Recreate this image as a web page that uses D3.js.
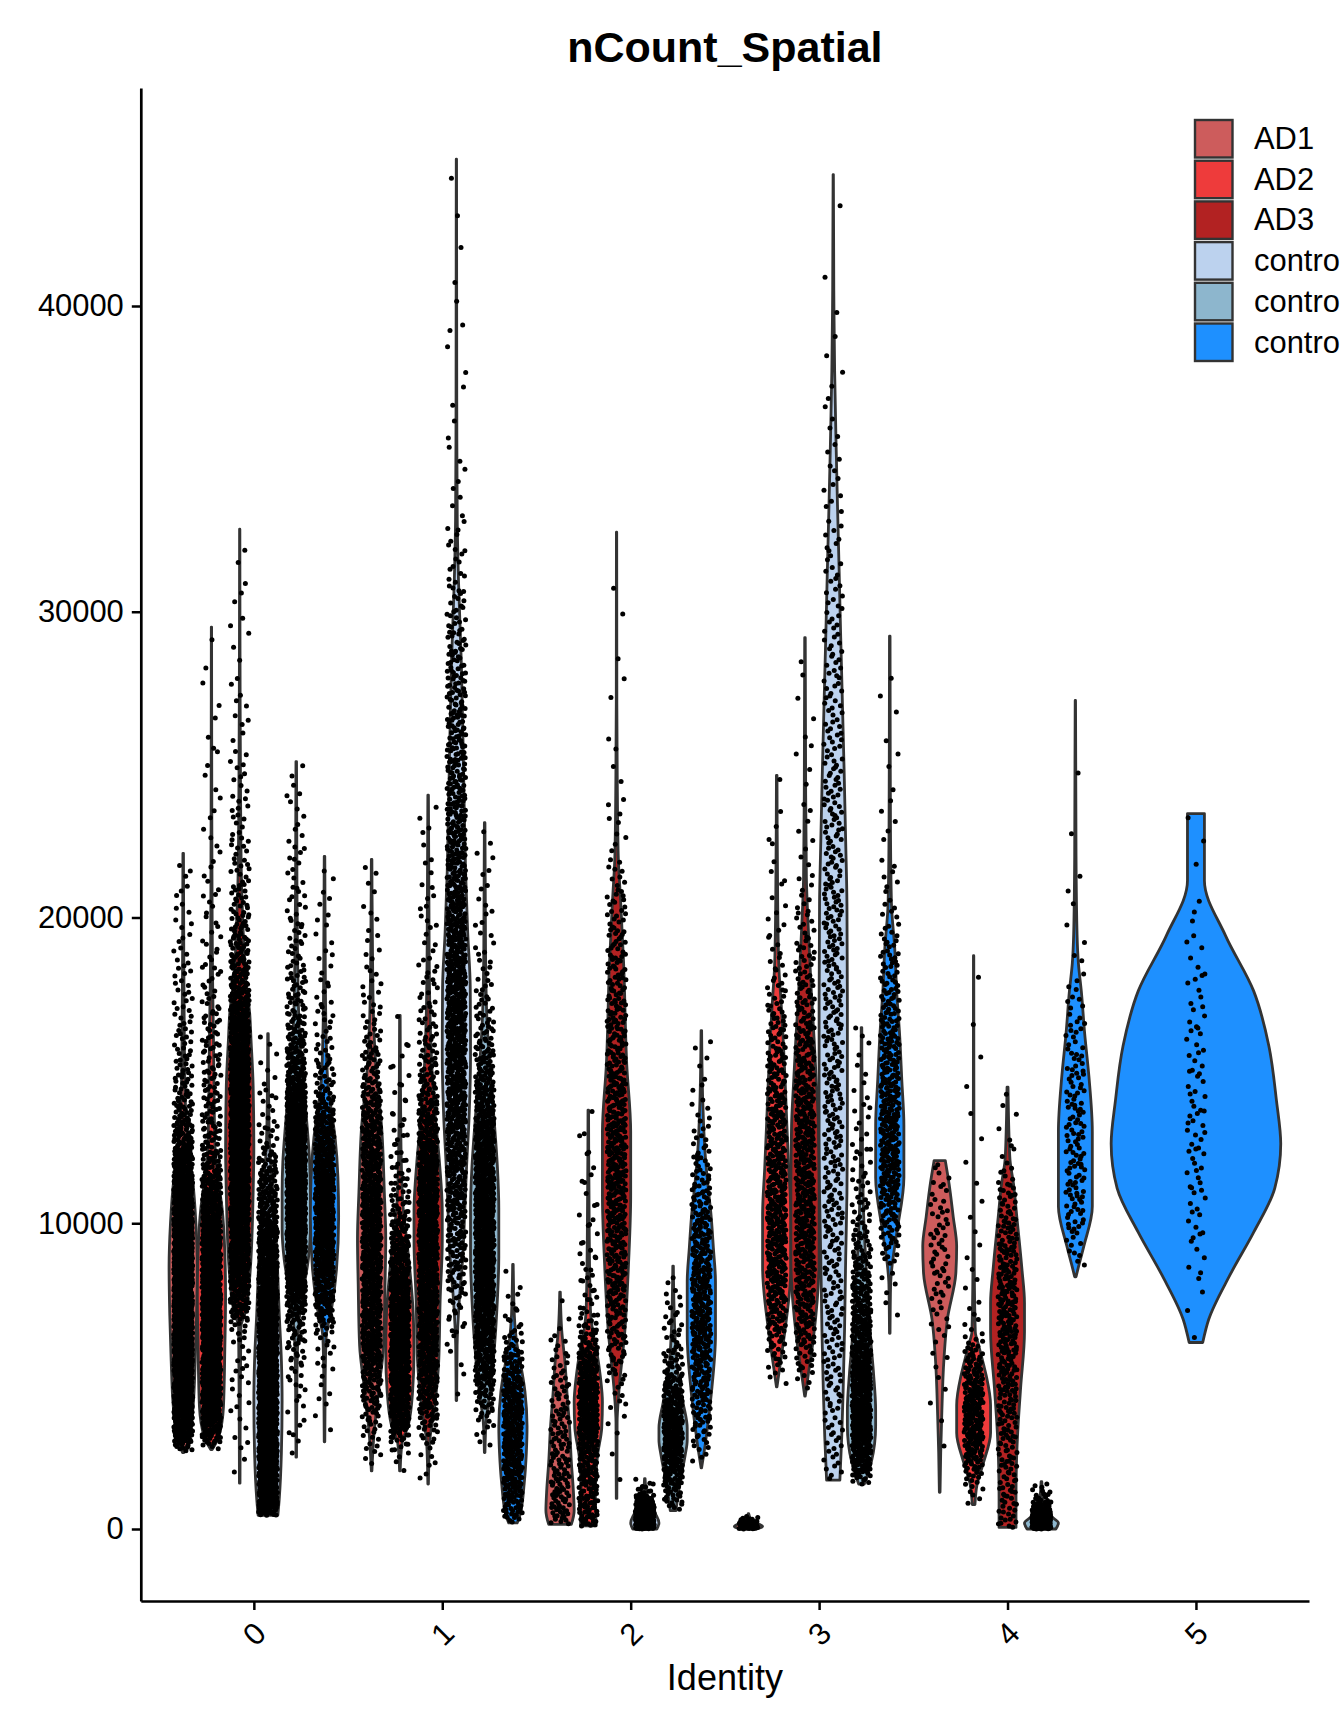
<!DOCTYPE html>
<html>
<head>
<meta charset="utf-8">
<script src="https://cdn.jsdelivr.net/npm/d3@7"></script>
<style>
  body { margin: 0; background: #fff; }
  svg { display: block; font-family: "Liberation Sans", Arial, Helvetica, sans-serif; }
</style>
</head>
<body>
<div id="chart"></div>
<script>
// ---- data ----
const identities = ["0", "1", "2", "3", "4", "5"];
const samples = ["AD1", "AD2", "AD3", "control1", "control2", "control3"];
const sampleColors = ["#CD5C5C", "#EE3B3B", "#B22222", "#BCD2EE", "#8DB6CD", "#1E90FF"];
// legend labels as they appear (cut by the right edge in the original)
const legendLabels = ["AD1", "AD2", "AD3", "contro", "contro", "contro"];
const yTicks = [0, 10000, 20000, 30000, 40000];

// each violin: sample, number of spots, profile = [nCount, relative density] from min to max
const cluster0 = [
  {sample: "AD1", n: 1600, profile: [[2500,0.05],[3000,0.45],[4000,0.7],[5500,0.85],[7000,0.95],[8600,1.0],[10000,0.9],[11500,0.65],[12500,0.35],[14000,0.15],[16000,0.08],[19000,0.04],[22100,0.02]]},
  {sample: "AD2", n: 1100, profile: [[2600,0.05],[3000,0.5],[4000,0.85],[6000,0.95],[7600,1.0],[9000,0.95],[10500,0.75],[11500,0.45],[12500,0.25],[14500,0.18],[16200,0.14],[18000,0.08],[21000,0.04],[25000,0.02],[29500,0.01]]},
  {sample: "AD3", n: 1300, profile: [[1500,0.02],[4000,0.04],[6600,0.08],[7100,0.4],[8500,0.75],[11000,0.95],[12500,1.0],[14500,0.95],[16000,0.8],[16900,0.7],[18000,0.4],[19500,0.25],[21300,0.12],[24000,0.06],[27000,0.03],[32700,0.01]]},
  {sample: "control1", n: 1300, profile: [[450,0.7],[1000,0.8],[2500,0.95],[4200,1.0],[5500,0.95],[7000,0.8],[9300,0.6],[11000,0.35],[12500,0.12],[14000,0.05],[16200,0.02]]},
  {sample: "control2", n: 1200, profile: [[2350,0.02],[5000,0.05],[6800,0.2],[7800,0.5],[8800,0.85],[9800,1.0],[11000,1.0],[12000,0.95],[13000,0.8],[14300,0.55],[15300,0.35],[16500,0.2],[18500,0.1],[21000,0.05],[25100,0.02]]},
  {sample: "control3", n: 650, profile: [[2850,0.02],[5000,0.05],[6300,0.12],[7200,0.5],[8500,0.85],[10200,1.0],[11500,0.95],[12800,0.75],[13800,0.45],[14500,0.25],[16000,0.12],[18000,0.06],[22000,0.02]]}
];
const cluster1 = [
  {sample: "AD1", n: 800, profile: [[1900,0.02],[3000,0.15],[4550,0.5],[6000,0.85],[8000,0.95],[9500,1.0],[11000,0.9],[13200,0.7],[14800,0.35],[16500,0.15],[18500,0.07],[21900,0.02]]},
  {sample: "AD2", n: 700, profile: [[1900,0.02],[2800,0.15],[3400,0.6],[4500,0.9],[5800,1.0],[7000,0.95],[8500,0.7],[9800,0.4],[10400,0.25],[12000,0.1],[14000,0.05],[16800,0.02]]},
  {sample: "AD3", n: 900, profile: [[1470,0.02],[2800,0.1],[3950,0.45],[5500,0.75],[7500,0.85],[9400,1.0],[10400,1.0],[12000,0.8],[13500,0.5],[14800,0.3],[16500,0.15],[19000,0.07],[24000,0.02]]},
  {sample: "control1", n: 1100, profile: [[4200,0.02],[6000,0.05],[7450,0.2],[8900,0.45],[10500,0.6],[11850,0.72],[13500,0.9],[15500,1.0],[17700,0.98],[19500,0.8],[21500,0.65],[25000,0.5],[28300,0.35],[31000,0.15],[33000,0.06],[37000,0.025],[44800,0.01]]},
  {sample: "control2", n: 1000, profile: [[2500,0.02],[3500,0.1],[4550,0.4],[6000,0.7],[7500,0.9],[8900,1.0],[10500,1.0],[11850,0.9],[13500,0.65],[15200,0.35],[16800,0.15],[19000,0.06],[23100,0.02]]},
  {sample: "control3", n: 350, profile: [[200,0.3],[450,0.5],[1500,0.8],[2500,0.95],[3350,1.0],[4500,0.85],[5500,0.5],[6000,0.3],[7000,0.1],[8650,0.02]]}
];
const cluster2 = [
  {sample: "AD1", n: 150, profile: [[150,0.8],[600,1.0],[1200,0.95],[2200,0.8],[3300,0.68],[4400,0.5],[5450,0.35],[6500,0.12],[7750,0.02]]},
  {sample: "AD2", n: 450, profile: [[100,0.55],[1200,0.5],[2400,0.65],[3300,0.95],[4150,1.0],[5000,0.85],[5800,0.6],[6500,0.3],[7200,0.15],[9500,0.07],[13700,0.02]]},
  {sample: "AD3", n: 600, profile: [[1000,0.02],[3500,0.04],[4400,0.15],[6550,0.6],[8700,0.85],[10900,1.0],[13000,1.0],[15200,0.72],[18500,0.5],[20600,0.28],[22000,0.12],[24500,0.05],[27000,0.02],[32600,0.01]]},
  {sample: "control1", n: 250, profile: [[0,0.85],[200,1.0],[500,0.75],[900,0.3],[1200,0.1],[1650,0.02]]},
  {sample: "control2", n: 350, profile: [[600,0.2],[1550,0.5],[2400,0.85],[2900,1.0],[3300,1.0],[4150,0.7],[5250,0.3],[6500,0.12],[8600,0.02]]},
  {sample: "control3", n: 400, profile: [[2000,0.02],[2850,0.3],[4400,0.7],[6350,1.0],[8100,1.0],[9200,0.85],[10200,0.7],[11300,0.45],[12400,0.25],[14000,0.1],[16300,0.02]]}
];
const cluster3 = [
  {sample: "AD1", n: 60, profile: [[0,0.6],[80,1.0],[200,0.6],[350,0.15],[500,0.02]]},
  {sample: "AD2", n: 500, profile: [[4650,0.02],[5400,0.25],[6550,0.6],[8550,1.0],[10300,1.0],[11800,0.85],[13200,0.72],[14600,0.6],[16100,0.45],[17300,0.3],[18400,0.15],[20500,0.07],[24650,0.02]]},
  {sample: "AD3", n: 550, profile: [[4350,0.02],[5100,0.25],[6250,0.6],[8850,1.0],[11000,1.0],[13200,0.95],[14650,0.8],[16000,0.65],[17550,0.45],[19500,0.25],[21300,0.1],[24000,0.05],[29150,0.02]]},
  {sample: "control1", n: 500, profile: [[1600,0.47],[3000,0.6],[4500,0.7],[6500,0.8],[8850,0.88],[11000,0.97],[13200,1.0],[17000,1.0],[20450,0.97],[22500,0.88],[24800,0.77],[27000,0.65],[29150,0.53],[31300,0.42],[33500,0.3],[35500,0.2],[37850,0.1],[40500,0.04],[44300,0.01]]},
  {sample: "control2", n: 600, profile: [[1470,0.2],[2200,0.7],[3350,1.0],[3900,1.0],[5100,0.85],[6200,0.65],[7400,0.5],[8800,0.3],[10300,0.15],[12500,0.07],[16400,0.02]]},
  {sample: "control3", n: 400, profile: [[6400,0.02],[8000,0.06],[8550,0.15],[9700,0.5],[11500,1.0],[13200,1.0],[14700,0.85],[16150,0.7],[17500,0.5],[19000,0.35],[20450,0.12],[23000,0.05],[29200,0.02]]}
];
const cluster4 = [
  {sample: "AD1", n: 70, profile: [[1200,0.02],[2500,0.06],[3700,0.12],[5550,0.25],[6850,0.45],[8350,0.95],[9250,1.0],[10200,0.8],[11300,0.55],[12050,0.33]]},
  {sample: "AD2", n: 250, profile: [[800,0.08],[1450,0.2],[2200,0.6],[3150,1.0],[4050,1.0],[5000,0.75],[5350,0.6],[6000,0.3],[6450,0.1],[8500,0.04],[12000,0.02],[18750,0.01]]},
  {sample: "AD3", n: 350, profile: [[50,0.5],[1000,0.5],[2000,0.52],[3150,0.6],[4600,0.77],[6450,1.0],[7400,1.0],[8500,0.85],[10200,0.55],[11300,0.35],[12050,0.15],[13000,0.08],[14450,0.03]]},
  {sample: "control2", n: 200, profile: [[0,0.85],[200,1.0],[400,0.6],[700,0.25],[1000,0.1],[1550,0.02]]},
  {sample: "control3", n: 150, profile: [[8250,0.04],[8500,0.15],[9250,0.5],[10550,1.0],[13000,1.0],[14800,0.8],[16200,0.55],[17600,0.35],[18500,0.18],[19450,0.1],[22000,0.04],[27100,0.01]]}
];
const cluster5 = [
  {sample: "control3", n: 90, profile: [[6100,0.08],[6850,0.15],[8300,0.4],[9700,0.68],[11150,0.93],[12600,1.0],[14000,0.95],[15800,0.86],[17600,0.68],[19400,0.35],[21200,0.1],[23400,0.1]]}
];
const clusters = [cluster0, cluster1, cluster2, cluster3, cluster4, cluster5];

// ---- layout ----
const W = 1344, H = 1728;
const panel = {left: 140.8, right: 1309, top: 88, bottom: 1601};

const svg = d3.select("#chart").append("svg")
  .attr("width", W).attr("height", H)
  .attr("viewBox", `0 0 ${W} ${H}`)
  .style("overflow", "hidden");

const x = d3.scalePoint().domain(identities).range([panel.left, panel.right]).padding(0.6);
const y = d3.scaleLinear().domain([-2355, 47130]).range([panel.bottom, panel.top]);
const color = d3.scaleOrdinal().domain(samples).range(sampleColors);

const dodgeWidth = 0.9 * x.step();
const jitterHalf = 0.05 * x.step();

// inverse cdf of a piecewise-linear density profile
function quantileFn(profile) {
  const lo = profile[0][0], hi = profile[profile.length - 1][0];
  const dens = d3.scaleLinear().domain(profile.map(d => d[0])).range(profile.map(d => d[1]));
  const steps = 400, grid = [], cdf = [0];
  for (let k = 0; k <= steps; k++) grid.push(lo + (hi - lo) * k / steps);
  for (let k = 1; k <= steps; k++) {
    cdf.push(cdf[k - 1] + (dens(grid[k - 1]) + dens(grid[k])) / 2);
  }
  const total = cdf[steps];
  return u => {
    const t = u * total;
    const k = Math.min(steps, Math.max(1, d3.bisectLeft(cdf, t)));
    const f = (t - cdf[k - 1]) / ((cdf[k] - cdf[k - 1]) || 1);
    return grid[k - 1] + f * (grid[k] - grid[k - 1]);
  };
}

// halton low-discrepancy sequence, used for the jitter layout
function halton(i, b) {
  let f = 1, r = 0;
  while (i > 0) { f /= b; r += f * (i % b); i = Math.floor(i / b); }
  return r;
}

const violinLayer = svg.append("g");
const pointLayer = svg.append("g");

let seq = 7;
clusters.forEach((group, gi) => {
  const m = group.length;
  const slot = dodgeWidth / m;
  group.forEach((v, j) => {
    const cx = x(identities[gi]) + (j - (m - 1) / 2) * slot;
    const hw = slot / 2;
    const area = d3.area()
      .curve(d3.curveMonotoneY)
      .y(d => y(d[0]))
      .x0(d => cx - d[1] * hw)
      .x1(d => cx + d[1] * hw);
    violinLayer.append("path")
      .attr("d", area(v.profile))
      .attr("fill", color(v.sample))
      .attr("stroke", "#333333")
      .attr("stroke-width", 2.8)
      .attr("stroke-linejoin", "round");

    // spots: quantiles of the profile, spread across the jitter width
    const q = quantileFn(v.profile);
    const pts = [];
    for (let i = 0; i < v.n; i++) {
      seq++;
      const u = halton(seq, 2), s = halton(seq, 3);
      pts.push([cx + (s * 2 - 1) * jitterHalf, y(q(u))]);
    }
    pointLayer.selectAll(null).data(pts).enter().append("circle")
      .attr("cx", d => d[0]).attr("cy", d => d[1])
      .attr("r", 2.5).attr("fill", "#000");
  });
});

// ---- axes ----
const yAxis = svg.append("g")
  .attr("transform", `translate(${panel.left},0)`)
  .call(d3.axisLeft(y).tickValues(yTicks).tickFormat(d3.format("d")).tickSize(9).tickSizeOuter(0).tickPadding(8));
const xAxis = svg.append("g")
  .attr("transform", `translate(0,${panel.bottom})`)
  .call(d3.axisBottom(x).tickSize(9).tickSizeOuter(0).tickFormat(""));

[yAxis, xAxis].forEach(g => {
  g.select(".domain").attr("stroke", "#000").attr("stroke-width", 2.7);
  g.selectAll(".tick line").attr("stroke", "#000").attr("stroke-width", 2.5);
});
yAxis.selectAll(".tick text")
  .attr("font-size", 30.9).attr("font-family", null).attr("fill", "#000");

xAxis.selectAll(".tick").append("text")
  .attr("transform", "translate(0,33) rotate(-45)")
  .attr("text-anchor", "middle")
  .attr("dominant-baseline", "central")
  .attr("font-size", 30.9)
  .attr("fill", "#000")
  .text(d => d);

// ---- titles ----
svg.append("text")
  .attr("x", (panel.left + panel.right) / 2).attr("y", 62)
  .attr("text-anchor", "middle")
  .attr("font-size", 43).attr("font-weight", "bold")
  .text("nCount_Spatial");

svg.append("text")
  .attr("x", (panel.left + panel.right) / 2).attr("y", 1690)
  .attr("text-anchor", "middle")
  .attr("font-size", 36)
  .text("Identity");

// ---- legend ----
const legend = svg.append("g").attr("transform", "translate(1195,120)");
const keys = legend.selectAll("g").data(samples).enter().append("g")
  .attr("transform", (d, i) => `translate(0,${i * 40.7})`);
keys.append("rect")
  .attr("width", 37.5).attr("height", 37.5)
  .attr("fill", d => color(d))
  .attr("stroke", "#333333").attr("stroke-width", 2.4);
keys.append("text")
  .attr("x", 59).attr("y", 18.5)
  .attr("dominant-baseline", "central")
  .attr("font-size", 30.9)
  .text((d, i) => legendLabels[i]);
</script>
</body>
</html>
